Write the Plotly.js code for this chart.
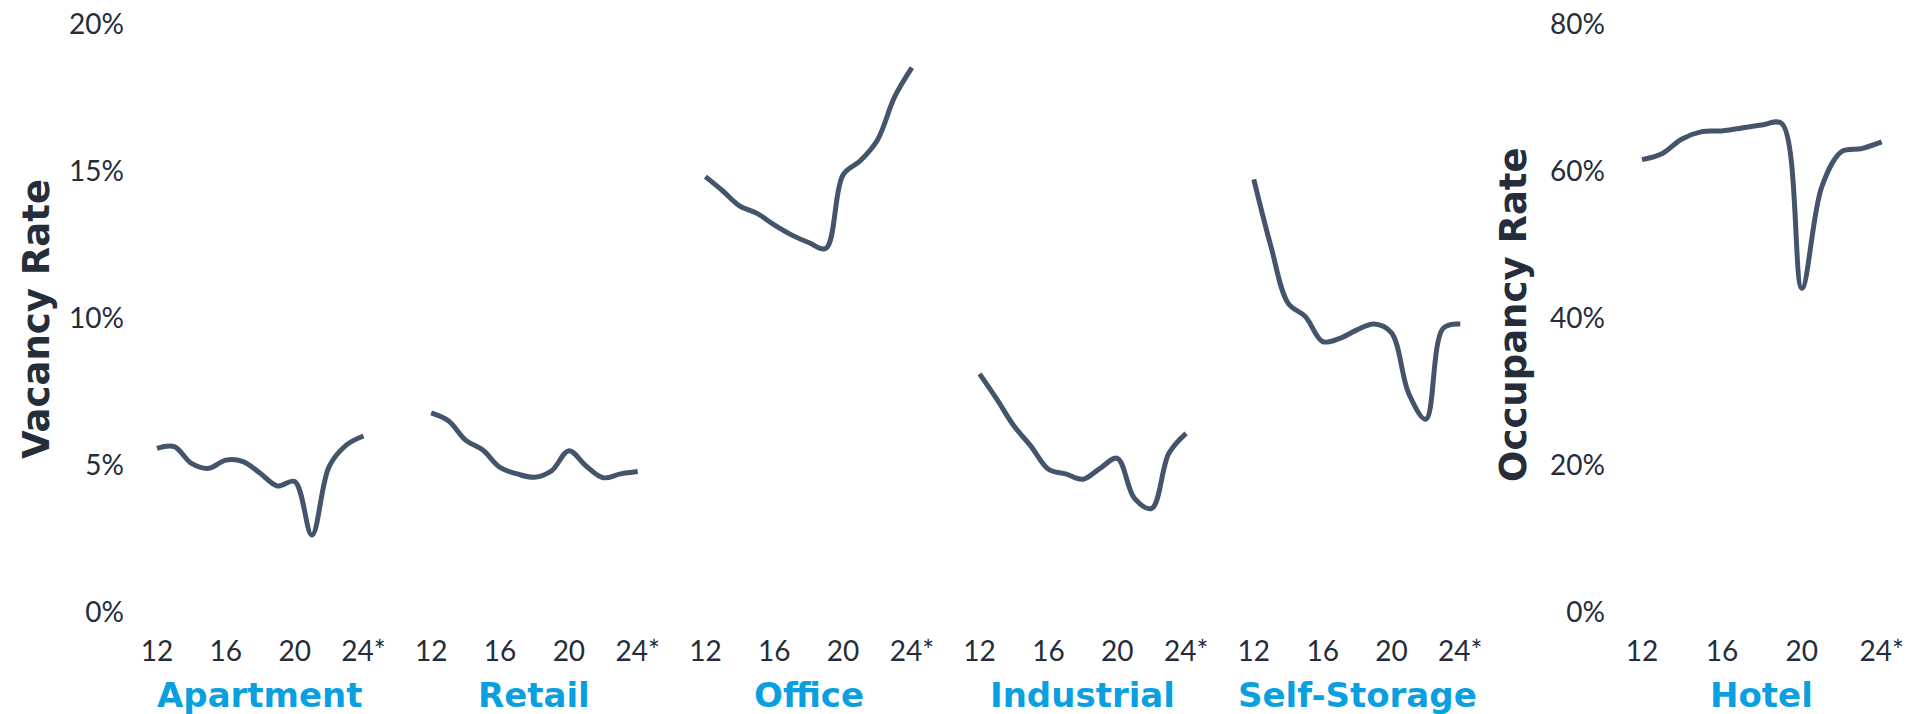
<!DOCTYPE html>
<html>
<head>
<meta charset="utf-8">
<script src="https://cdn.plot.ly/plotly-3.0.1.min.js"></script>
<style>html,body{margin:0;padding:0;background:#fff;}#chart{width:1909px;height:714px;}</style>
</head>
<body>
<div id="chart"></div>
<script>
// ---- data ----
const years = [2012,2013,2014,2015,2016,2017,2018,2019,2020,2021,2022,2023,2024];
const apartment   = [5.58,5.64,5.07,4.90,5.18,5.13,4.73,4.30,4.45,2.63,4.96,5.69,6.00];
const retail      = [6.79,6.52,5.86,5.52,4.93,4.71,4.60,4.82,5.50,4.98,4.58,4.71,4.79];
const office      = [14.82,14.34,13.82,13.57,13.18,12.84,12.58,12.38,14.88,15.36,16.07,17.54,18.53];
const industrial  = [8.11,7.25,6.34,5.64,4.87,4.71,4.53,4.90,5.24,3.88,3.54,5.41,6.09];
const selfStorage = [14.73,12.44,10.51,10.06,9.21,9.32,9.61,9.81,9.51,7.45,6.57,9.66,9.81];
const hotel       = [61.6,62.4,64.4,65.4,65.5,65.9,66.3,66.5,44.1,57.9,62.7,63.1,64.0];

const categories = ['Apartment','Retail','Office','Industrial','Self-Storage','Hotel'];
const xTickVals = [2012,2016,2020,2024];
const xTickText = ['12','16','20','24*'];
const vacTickVals = [0,5,10,15,20];
const vacTickText = ['0%','5%','10%','15%','20%'];
const occTickVals = [0,20,40,60,80];
const occTickText = ['0%','20%','40%','60%','80%'];

// ---- layout helpers ----
const W = 1909, H = 714;
const lineColor = '#44546a';
const textColor = '#252d3a';
const blue = '#0a9fe0';
const tickFont = {family:'Lato, sans-serif', size:28, color:textColor};

const series = [apartment, retail, office, industrial, selfStorage, hotel];
// pixel positions of 2012 and 2024 for each panel
const panelPx = [[157,363.5],[431.2,637.7],[705.4,911.9],[979.6,1186.1],[1253.8,1460.3],[1642,1881.7]];
const rng = [2011.5, 2024.5];

const yBottom = (H-612.4)/H, yTop = (H-24.35)/H;

const layout = {
  width:W, height:H,
  margin:{l:0,r:0,t:0,b:0},
  paper_bgcolor:'#fff', plot_bgcolor:'rgba(0,0,0,0)',
  showlegend:false,
  annotations:[],
  yaxis:{domain:[yBottom,yTop], range:[0,20], anchor:'free', position:124/W,
         tickvals:vacTickVals, ticktext:vacTickText, showgrid:false, zeroline:false, showline:false,
         ticks:'', tickfont:tickFont, fixedrange:true},
  yaxis2:{domain:[yBottom,yTop], range:[0,80], anchor:'free', position:1605/W,
         tickvals:occTickVals, ticktext:occTickText, showgrid:false, zeroline:false, showline:false,
         ticks:'', tickfont:tickFont, fixedrange:true}
};

const traces = [];
series.forEach((vals, i) => {
  const [p0, p1] = panelPx[i];
  const pxPerYr = (p1 - p0) / 12;
  const d0 = (p0 - 0.5*pxPerYr) / W, d1 = (p1 + 0.5*pxPerYr) / W;
  const axName = i === 0 ? 'xaxis' : 'xaxis' + (i+1);
  const isHotel = i === 5;
  layout[axName] = {
    domain:[d0, Math.min(d1,1)], range:rng, anchor: isHotel ? 'y2' : 'y',
    tickvals:xTickVals, ticktext:xTickText, showgrid:false, zeroline:false, showline:false,
    ticks:'outside', ticklen:14, tickcolor:'rgba(0,0,0,0)', tickfont:tickFont, fixedrange:true
  };
  traces.push({
    x: years, y: vals, type:'scatter', mode:'lines',
    xaxis: i === 0 ? 'x' : 'x' + (i+1), yaxis: isHotel ? 'y2' : 'y',
    line:{color:lineColor, width:5, shape:'spline', smoothing:1},
    hoverinfo:'skip'
  });
  layout.annotations.push({
    text:'<b>'+categories[i]+'</b>', xref:'paper', yref:'paper',
    x:((p0+p1)/2)/W, y:(H-695)/H, xanchor:'center', yanchor:'middle', showarrow:false,
    font:{family:'DejaVu Sans, sans-serif', size:34, color:blue}
  });
});

layout.annotations.push({
  text:'<b>Vacancy Rate</b>', xref:'paper', yref:'paper', x:36/W, y:(H-319)/H,
  xanchor:'center', yanchor:'middle', textangle:-90, showarrow:false,
  font:{family:'DejaVu Sans, sans-serif', size:37, color:textColor}
});
layout.annotations.push({
  text:'<b>Occupancy Rate</b>', xref:'paper', yref:'paper', x:1513/W, y:(H-315)/H,
  xanchor:'center', yanchor:'middle', textangle:-90, showarrow:false,
  font:{family:'DejaVu Sans, sans-serif', size:37, color:textColor}
});

Plotly.newPlot('chart', traces, layout, {staticPlot:true, displayModeBar:false});
</script>
</body>
</html>
